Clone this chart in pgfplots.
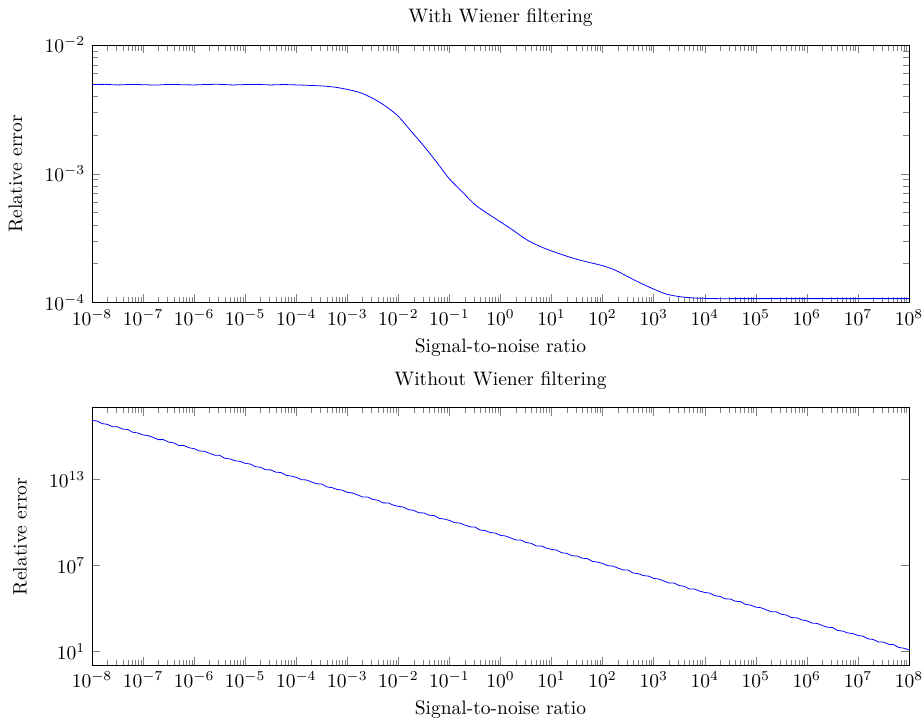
\documentclass[border=0pt]{standalone}
\usepackage{pgfplots}
\pgfplotsset{compat=1.18}
\begin{document}
\begin{tikzpicture}
\begin{axis}[
  name=top,
  scale only axis,
  width=419pt, height=132pt,
  xmode=log, ymode=log,
  xmin=1e-8, xmax=1e8,
  ymin=1e-4, ymax=1e-2,
  xtick={1e-8,1e-7,1e-6,1e-5,1e-4,1e-3,1e-2,1e-1,1,1e1,1e2,1e3,1e4,1e5,1e6,1e7,1e8},
  ytick={1e-4,1e-3,1e-2},
  title={With Wiener filtering},
  xlabel={Signal-to-noise ratio},
  ylabel={Relative error},
  ylabel shift=4.5pt,
]
\addplot[blue, no markers, smooth] coordinates {
(1e-8,4.92e-3)(1.778e-8,4.95e-3)(3.162e-8,4.90e-3)(5.623e-8,4.94e-3)
(1e-7,4.92e-3)(1.778e-7,4.89e-3)(3.162e-7,4.94e-3)(5.623e-7,4.92e-3)
(1e-6,4.90e-3)(1.778e-6,4.94e-3)(3.162e-6,4.95e-3)(5.623e-6,4.90e-3)
(1e-5,4.93e-3)(1.778e-5,4.94e-3)(3.162e-5,4.90e-3)(5.623e-5,4.93e-3)
(1e-4,4.90e-3)(1.778e-4,4.86e-3)(3.162e-4,4.81e-3)(5.623e-4,4.71e-3)
(1e-3,4.52e-3)(1.778e-3,4.27e-3)(3.162e-3,3.85e-3)(5.623e-3,3.35e-3)
(1e-2,2.79e-3)(1.778e-2,2.14e-3)(3.162e-2,1.64e-3)(5.623e-2,1.23e-3)
(0.1,9.12e-4)(0.1778,7.24e-4)(0.3162,5.75e-4)(0.5623,4.9e-4)
(1,4.22e-4)(1.778,3.63e-4)(3.162,3.09e-4)(5.623,2.75e-4)
(10,2.51e-4)(17.78,2.32e-4)(31.62,2.16e-4)(56.23,2.04e-4)
(100,1.93e-4)(177.8,1.78e-4)(316.2,1.58e-4)(562.3,1.41e-4)
(1000,1.27e-4)(1778,1.16e-4)(3162,1.11e-4)(5623,1.085e-4)
(1e4,1.075e-4)(1.778e4,1.07e-4)(3.162e4,1.07e-4)(1e5,1.07e-4)(3.162e5,1.07e-4)(1e6,1.07e-4)(3.162e6,1.07e-4)(1e7,1.07e-4)(3.162e7,1.07e-4)(1e8,1.07e-4)
};
\end{axis}
\begin{axis}[
  name=bot,
  at={(0,-54pt)}, anchor=north west,
  scale only axis,
  width=419pt, height=132pt,
  xmode=log, ymode=log,
  xmin=1e-8, xmax=1e8,
  ymin=1.17, ymax=1.02e18,
  xtick={1e-8,1e-7,1e-6,1e-5,1e-4,1e-3,1e-2,1e-1,1,1e1,1e2,1e3,1e4,1e5,1e6,1e7,1e8},
  ytick={1e1,1e7,1e13},
  minor ytick={},
  title={Without Wiener filtering},
  xlabel={Signal-to-noise ratio},
  ylabel={Relative error},
  ylabel shift=4.5pt,
]
\addplot[blue, no markers] coordinates {
(1e-8,1.35e17)(1.259e-8,1.20e17)(1.585e-8,7.91e16)(1.995e-8,7.10e16)(2.512e-8,4.83e16)(3.162e-8,4.70e16)(3.981e-8,3.29e16)(5.012e-8,3.09e16)(6.31e-8,1.97e16)(7.943e-8,1.75e16)
(1e-7,1.28e16)(1.259e-7,1.16e16)(1.585e-7,8.51e15)(1.995e-7,6.08e15)(2.512e-7,6.07e15)(3.162e-7,4.10e15)(3.981e-7,3.59e15)(5.012e-7,2.37e15)(6.31e-7,2.35e15)(7.943e-7,1.65e15)
(1e-6,1.42e15)(1.259e-6,9.86e14)(1.585e-6,9.36e14)(1.995e-6,6.76e14)(2.512e-6,5.05e14)(3.162e-6,4.87e14)(3.981e-6,3.05e14)(5.012e-6,2.74e14)(6.31e-6,2.03e14)(7.943e-6,1.85e14)
(1e-5,1.35e14)(1.259e-5,1.20e14)(1.585e-5,7.91e13)(1.995e-5,7.10e13)(2.512e-5,4.83e13)(3.162e-5,4.70e13)(3.981e-5,3.29e13)(5.012e-5,3.09e13)(6.31e-5,1.97e13)(7.943e-5,1.75e13)
(1e-4,1.42e13)(1.259e-4,9.86e12)(1.585e-4,9.36e12)(1.995e-4,6.76e12)(2.512e-4,5.05e12)(3.162e-4,4.87e12)(3.981e-4,3.05e12)(5.012e-4,2.74e12)(6.31e-4,2.03e12)(7.943e-4,1.85e12)
(1e-3,1.28e12)(1.259e-3,1.16e12)(1.585e-3,8.51e11)(1.995e-3,6.08e11)(2.512e-3,6.07e11)(3.162e-3,4.10e11)(3.981e-3,3.59e11)(5.012e-3,2.37e11)(6.31e-3,2.35e11)(7.943e-3,1.65e11)
(1e-2,1.35e11)(1.259e-2,1.20e11)(1.585e-2,7.91e10)(1.995e-2,7.10e10)(2.512e-2,4.83e10)(3.162e-2,4.70e10)(3.981e-2,3.29e10)(5.012e-2,3.09e10)(6.31e-2,1.97e10)(7.943e-2,1.75e10)
(0.1,1.42e10)(0.1259,9.86e9)(0.1585,9.36e9)(0.1995,6.76e9)(0.2512,5.05e9)(0.3162,4.87e9)(0.3981,3.05e9)(0.5012,2.74e9)(0.631,2.03e9)(0.7943,1.85e9)
(1,1.28e9)(1.259,1.16e9)(1.585,8.51e8)(1.995,6.08e8)(2.512,6.07e8)(3.162,4.10e8)(3.981,3.59e8)(5.012,2.37e8)(6.31,2.35e8)(7.943,1.65e8)
(10,1.35e8)(12.59,1.20e8)(15.85,7.91e7)(19.95,7.10e7)(25.12,4.83e7)(31.62,4.70e7)(39.81,3.29e7)(50.12,3.09e7)(63.1,1.97e7)(79.43,1.75e7)
(100,1.42e7)(125.9,9.86e6)(158.5,9.36e6)(199.5,6.76e6)(251.2,5.05e6)(316.2,4.87e6)(398.1,3.05e6)(501.2,2.74e6)(631,2.03e6)(794.3,1.85e6)
(1000,1.28e6)(1259,1.16e6)(1585,8.51e5)(1995,6.08e5)(2512,6.07e5)(3162,4.10e5)(3981,3.59e5)(5012,2.37e5)(6310,2.35e5)(7943,1.65e5)
(1e4,1.35e5)(12590,1.20e5)(15850,7.91e4)(19950,7.10e4)(25120,4.83e4)(31620,4.70e4)(39810,3.29e4)(50120,3.09e4)(63100,1.97e4)(79430,1.75e4)
(1e5,1.28e4)(125900,1.16e4)(158500,8.51e3)(199500,6.08e3)(251200,6.07e3)(316200,4.10e3)(398100,3.59e3)(501200,2.37e3)(631000,2.35e3)(794300,1.65e3)
(1e6,1.42e3)(1.259e6,9.86e2)(1.585e6,9.36e2)(1.995e6,6.76e2)(2.512e6,5.05e2)(3.162e6,4.87e2)(3.981e6,3.05e2)(5.012e6,2.74e2)(6.31e6,2.03e2)(7.943e6,1.85e2)
(1e7,1.35e2)(1.259e7,1.20e2)(1.585e7,7.91e1)(1.995e7,7.10e1)(2.512e7,4.83e1)(3.162e7,4.70e1)(3.981e7,3.29e1)(5.012e7,3.09e1)(6.31e7,1.97e1)(7.943e7,1.75e1)
(1e8,1.35e1)
};
\end{axis}
\pgfresetboundingbox
\path ([shift={(-47.2pt,23.1pt)}]top.north west) rectangle ([shift={(7.2pt,-30.8pt)}]bot.south east);
\end{tikzpicture}
\end{document}
